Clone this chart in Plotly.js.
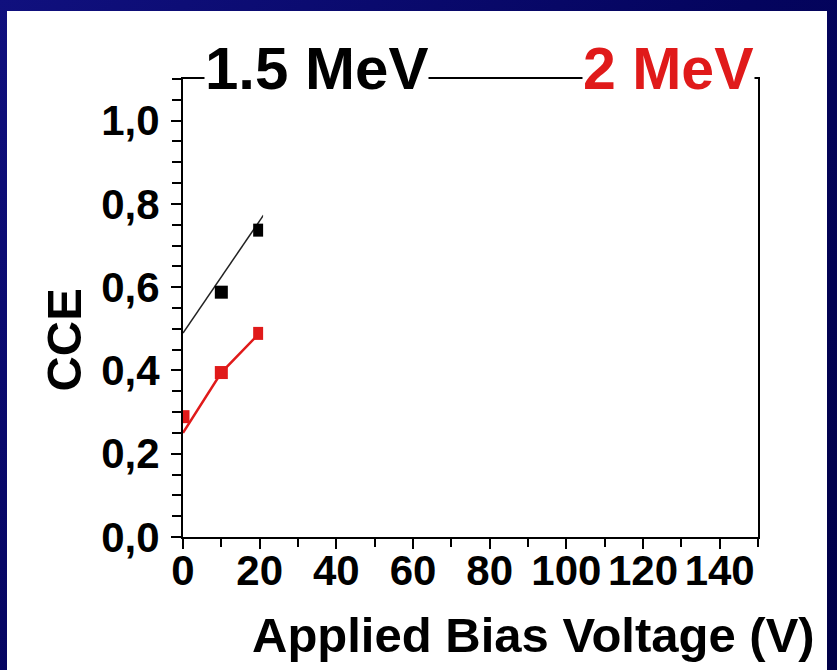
<!DOCTYPE html>
<html>
<head>
<meta charset="utf-8">
<script src="https://cdn.plot.ly/plotly-3.0.1.min.js"></script>
<style>
  html, body { margin: 0; padding: 0; width: 837px; height: 670px; overflow: hidden;
    background: linear-gradient(135deg, #10107e 0%, #04045e 50%, #000048 100%); }
  #chart { position: absolute; left: 7px; top: 11px; width: 820px; height: 659px; background: #fff; }
</style>
</head>
<body>
<div id="chart"></div>
<script>
// Data
const biasVoltage = [0, 10, 20];
const cce15MeV = [null, 0.588, 0.737];      // black squares (1.5 MeV)
const cce2MeV = [0.289, 0.395, 0.489];      // red squares (2 MeV)
const fitX15 = [0, 21];
const fitY15 = [0.49, 0.773];
const fitX2 = [0, 10, 20, 21];
const fitY2 = [0.25, 0.395, 0.49, 0.497];
const yTickVals = [0, 0.2, 0.4, 0.6, 0.8, 1.0];
const yTickText = ['0,0', '0,2', '0,4', '0,6', '0,8', '1,0'];
const xTickVals = [0, 20, 40, 60, 80, 100, 120, 140];
const xTickText = ['0', '20', '40', '60', '80', '100', '120', '140'];
const xTitle = 'Applied Bias Voltage (V)';
const yTitle = 'CCE';
const label15 = '1.5 MeV';
const label2 = '2 MeV';

const black = '#000000';
const red = '#e01a1a';
const FONT = 'Liberation Sans, Arial, Helvetica, sans-serif';

const traces = [
  { x: fitX15, y: fitY15, mode: 'lines', line: { color: '#222', width: 1.5 }, hoverinfo: 'skip', showlegend: false },
  { x: fitX2, y: fitY2, mode: 'lines', line: { color: red, width: 2.5 }, hoverinfo: 'skip', showlegend: false },
  { x: biasVoltage, y: cce15MeV, mode: 'markers', marker: { symbol: 'square', size: 13, color: black }, showlegend: false },
  { x: biasVoltage, y: cce2MeV, mode: 'markers', marker: { symbol: 'square', size: 13, color: red }, showlegend: false }
];

const layout = {
  width: 820, height: 659,
  margin: { l: 176, r: 69, t: 68, b: 133 },
  paper_bgcolor: '#ffffff', plot_bgcolor: '#ffffff',
  showlegend: false,
  font: { family: FONT, color: '#000', size: 42, weight: 700 },
  xaxis: {
    range: [0, 150], showgrid: false, zeroline: false,
    showline: true, linecolor: '#000', linewidth: 2, mirror: true,
    ticks: 'outside', ticklen: 10, tickwidth: 2, tickcolor: '#000',
    tickvals: xTickVals, ticktext: xTickText, ticklabelstandoff: -14,
    tickfont: { family: FONT, size: 42, weight: 700, color: '#000' },
    minor: { dtick: 10, ticks: 'outside', ticklen: 8, tickwidth: 2, tickcolor: '#000' }
  },
  yaxis: {
    range: [0, 1.1], showgrid: false, zeroline: false,
    showline: true, linecolor: '#000', linewidth: 2, mirror: true,
    ticks: 'outside', ticklen: 10, tickwidth: 2, tickcolor: '#000',
    tickvals: yTickVals, ticktext: yTickText, ticklabelstandoff: 3,
    tickfont: { family: FONT, size: 42, weight: 700, color: '#000' },
    minor: { dtick: 0.05, ticks: 'outside', ticklen: 9, tickwidth: 2, tickcolor: '#000' }
  },
  shapes: [
    { type: 'rect', xref: 'x', yref: 'y', x0: 20.9, x1: 149.6, y0: 0.006, y1: 1.094,
      fillcolor: '#ffffff', line: { width: 0 }, layer: 'above' }
  ],
  annotations: [
    { xref: 'paper', yref: 'paper', x: 0.232, y: 1.022, xanchor: 'center', yanchor: 'middle',
      text: label15, showarrow: false, bgcolor: '#ffffff', borderpad: 0,
      font: { family: FONT, size: 60, weight: 700, color: black } },
    { xref: 'paper', yref: 'paper', x: 0.8435, y: 1.022, xanchor: 'center', yanchor: 'middle',
      text: label2, showarrow: false, bgcolor: '#ffffff', borderpad: 0,
      font: { family: FONT, size: 59, weight: 700, color: red } },
    { xref: 'paper', yref: 'paper', x: 0.610, y: -0.214, xanchor: 'center', yanchor: 'middle',
      text: xTitle, showarrow: false,
      font: { family: FONT, size: 49, weight: 700, color: black } },
    { xref: 'paper', yref: 'paper', x: -0.206, y: 0.430, xanchor: 'center', yanchor: 'middle',
      text: yTitle, showarrow: false, textangle: -90,
      font: { family: FONT, size: 49, weight: 700, color: black } }
  ]
};

Plotly.newPlot('chart', traces, layout, { displayModeBar: false, staticPlot: true });
</script>
</body>
</html>
